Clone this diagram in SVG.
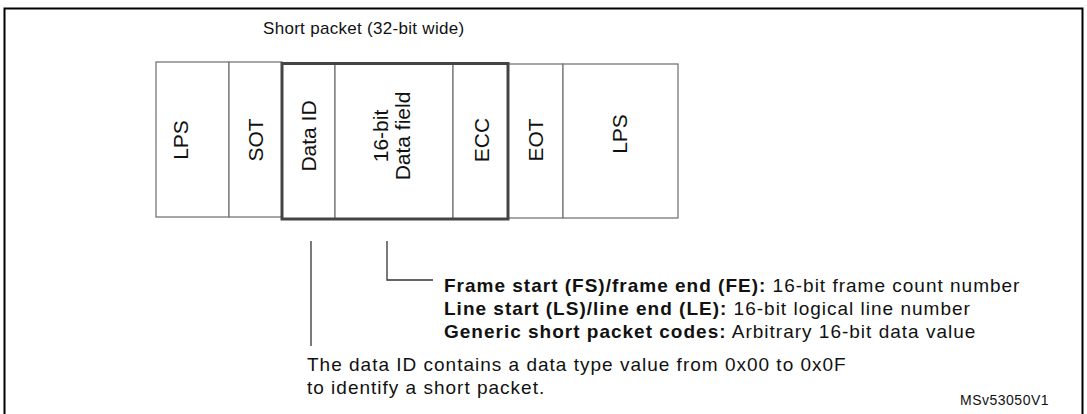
<svg xmlns="http://www.w3.org/2000/svg" width="1087" height="414" viewBox="0 0 1087 414">
<style>
.c{fill:#fff;stroke:#777;stroke-width:1.3}
.t{font-family:"Liberation Sans",Arial,sans-serif;font-size:19px;letter-spacing:1px;fill:#111}
.v{font-family:"Liberation Sans",Arial,sans-serif;font-size:21px;fill:#111;text-anchor:middle}
.b{font-weight:bold}
.ln{stroke:#333;stroke-width:1.3;fill:none}
</style>
<rect x="0" y="0" width="1087" height="414" fill="#fff"/>
<path d="M4.5 414 V8.5 H1082.5 V414" fill="none" stroke="#000" stroke-width="2"/>
<text class="t" x="263" y="34" style="font-size:17px;letter-spacing:0.3px">Short packet (32-bit wide)</text>
<g id="lps1"><rect class="c" x="156" y="62" width="73" height="155"/><text class="v" transform="translate(188,140) rotate(-90)">LPS</text></g>
<g id="sot"><rect class="c" x="229" y="62" width="53" height="155"/><text class="v" transform="translate(263,140) rotate(-90)">SOT</text></g>
<g id="dataid"><rect class="c" x="282" y="64" width="53" height="155"/><text class="v" transform="translate(316,136) rotate(-90)">Data ID</text></g>
<g id="datafield"><rect class="c" x="335" y="64" width="118" height="155"/><text class="v" transform="translate(388,136) rotate(-90)">16-bit</text><text class="v" transform="translate(410,136) rotate(-90)">Data field</text></g>
<g id="ecc"><rect class="c" x="453" y="64" width="55" height="155"/><text class="v" transform="translate(489,140) rotate(-90)">ECC</text></g>
<g id="eot"><rect class="c" x="508" y="64" width="55" height="154"/><text class="v" transform="translate(543,140) rotate(-90)">EOT</text></g>
<g id="lps2"><rect class="c" x="563" y="64" width="115" height="154"/><text class="v" transform="translate(627,134) rotate(-90)">LPS</text></g>
<rect id="shortpacket" x="282" y="63.5" width="226" height="155.5" fill="none" stroke="#444" stroke-width="3"/>
<g id="connectors">
<path class="ln" d="M311 241 V346"/>
<path class="ln" d="M387 241 V280 H433"/>
</g>
<g id="fieldnote">
<text class="t" x="444" y="292"><tspan class="b">Frame start (FS)/frame end (FE):</tspan> 16-bit frame count number</text>
<text class="t" x="444" y="315"><tspan class="b">Line start (LS)/line end (LE):</tspan> 16-bit logical line number</text>
<text class="t" x="444" y="338"><tspan class="b">Generic short packet codes:</tspan> Arbitrary 16-bit data value</text>
</g>
<g id="idnote">
<text class="t" x="307" y="371">The data ID contains a data type value from 0x00 to 0x0F</text>
<text class="t" x="307" y="394">to identify a short packet.</text>
</g>
<text class="t" x="960" y="405" style="font-size:14px;letter-spacing:0.5px">MSv53050V1</text>
</svg>
